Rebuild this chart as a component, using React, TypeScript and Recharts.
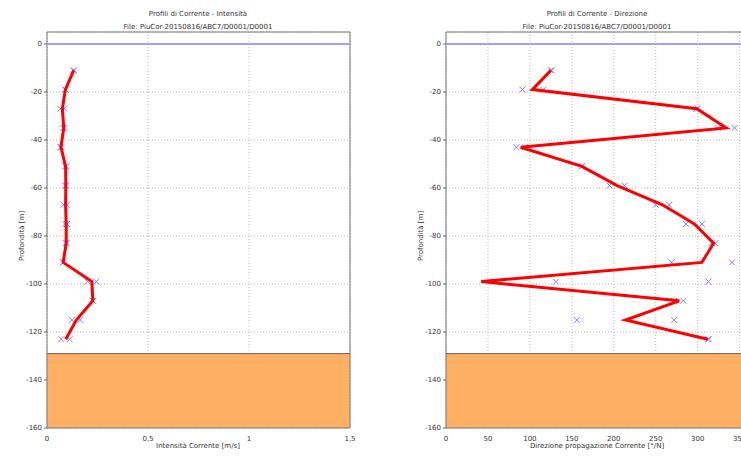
import {
  ScatterChart,
  Scatter,
  XAxis,
  YAxis,
  CartesianGrid,
  ReferenceArea,
  ReferenceLine,
} from 'recharts';

// depth levels (m)
const depths = [-11, -19, -27, -35, -43, -51, -59, -67, -75, -83, -91, -99, -107, -115, -123];

// intensity (m/s): two measurements + mean profile
const intensityA = [0.13, 0.09, 0.066, 0.08, 0.066, 0.09, 0.09, 0.082, 0.09, 0.093, 0.08, 0.201, 0.226, 0.123, 0.071];
const intensityB = [0.134, 0.092, 0.086, 0.087, 0.071, 0.095, 0.095, 0.099, 0.099, 0.097, 0.08, 0.244, 0.228, 0.165, 0.112];
const intensityMean = [0.132, 0.091, 0.076, 0.083, 0.069, 0.092, 0.093, 0.092, 0.095, 0.095, 0.08, 0.222, 0.227, 0.145, 0.093];

// direction (°/N): two measurements + mean profile
const directionA = [126, 91, 298, 344, 84, 162, 195, 250, 286, 321, 269, 131, 283, 156, 313];
const directionB = [125, 116, 300, 324, 94, 162, 213, 266, 305, 317, 341, 313, 272, 272, 312];
const directionMean = [125, 103, 299, 334, 89, 162, 204, 258, 296, 319, 305, 42, 278, 214, 312];

const depthTicks = [0, -20, -40, -60, -80, -100, -120, -140, -160];
const intensityTicks = [0, 0.5, 1, 1.5];
const directionTicks = [0, 50, 100, 150, 200, 250, 300, 350];

const seabed = -129;
const surface = 0;

const FONT = '"DejaVu Sans", sans-serif';
const tickStyle = { fontSize: 7, fill: '#333', fontFamily: FONT };

const toPoints = (xs: number[]) => depths.map((d, i) => ({ x: xs[i], y: d }));

const XMark = (props: any) => {
  const { cx, cy } = props;
  const s = 3;
  return (
    <g stroke="#7f7fff" strokeWidth={1}>
      <line x1={cx - s} y1={cy - s} x2={cx + s} y2={cy + s} />
      <line x1={cx - s} y1={cy + s} x2={cx + s} y2={cy - s} />
    </g>
  );
};

const NoMark = () => <g />;

interface ProfileProps {
  width: number;
  left: number;
  right: number;
  domain: [number, number];
  ticks: number[];
  a: number[];
  b: number[];
  mean: number[];
  fmt: (v: number) => string;
}

function Profile({ width, left, right, domain, ticks, a, b, mean, fmt }: ProfileProps) {
  return (
    <ScatterChart
      width={width}
      height={456}
      margin={{ top: 32, right: right, bottom: 16, left: 0 }}
    >
      <CartesianGrid stroke="#b8b8b8" strokeDasharray="1 2" />
      <XAxis
        type="number"
        dataKey="x"
        domain={domain}
        ticks={ticks}
        tickFormatter={fmt}
        allowDataOverflow
        height={12}
        axisLine={false}
        tickLine={false}
        tick={tickStyle}
        tickMargin={2}
      />
      <YAxis
        type="number"
        dataKey="y"
        domain={[-160, 5]}
        ticks={depthTicks}
        allowDataOverflow
        width={left}
        axisLine={false}
        tickSize={3}
        tickLine={{ stroke: '#666' }}
        tick={tickStyle}
      />
      <ReferenceArea
        y1={-160}
        y2={seabed}
        x1={domain[0]}
        x2={domain[1]}
        fill="#ffb062"
        fillOpacity={1}
        stroke="none"
      />
      <ReferenceLine y={seabed} stroke="#666" strokeWidth={1} />
      <ReferenceLine y={surface} stroke="#9f9fff" strokeWidth={2} />
      <ReferenceArea
        y1={-160}
        y2={5}
        x1={domain[0]}
        x2={domain[1]}
        fill="none"
        stroke="#777"
        strokeWidth={1}
      />
      <Scatter data={toPoints(a)} shape={XMark} isAnimationActive={false} />
      <Scatter data={toPoints(b)} shape={XMark} isAnimationActive={false} />
      <Scatter
        data={toPoints(mean)}
        shape={NoMark}
        line={{ stroke: '#ff0000', strokeWidth: 3 }}
        isAnimationActive={false}
      />
    </ScatterChart>
  );
}

const textBase: React.CSSProperties = {
  position: 'absolute',
  fontFamily: FONT,
  fontSize: 7,
  color: '#333',
  whiteSpace: 'nowrap',
  transform: 'translateX(-50%)',
};

export default function App() {
  return (
    <div
      style={{
        position: 'fixed',
        left: 0,
        top: 0,
        width: 741,
        height: 456,
        overflow: 'hidden',
        background: '#fff',
      }}
    >
      <div style={{ position: 'absolute', left: 0, top: 0 }}>
        <Profile
          width={370}
          left={47}
          right={20}
          domain={[0, 1.5]}
          ticks={intensityTicks}
          a={intensityA}
          b={intensityB}
          mean={intensityMean}
          fmt={(v) => String(v).replace('.', ',')}
        />
      </div>
      <div style={{ position: 'absolute', left: 370, top: 0 }}>
        <Profile
          width={400}
          left={76}
          right={22}
          domain={[0, 360]}
          ticks={directionTicks}
          a={directionA}
          b={directionB}
          mean={directionMean}
          fmt={(v) => String(v)}
        />
      </div>

      <div style={{ ...textBase, left: 198, top: 10 }}>Profili di Corrente - Intensità</div>
      <div style={{ ...textBase, left: 198, top: 23 }}>File: PiuCor-20150816/ABC7/D0001/D0001</div>
      <div style={{ ...textBase, left: 597, top: 10 }}>Profili di Corrente - Direzione</div>
      <div style={{ ...textBase, left: 597, top: 23 }}>File: PiuCor-20150816/ABC7/D0001/D0001</div>

      <div style={{ ...textBase, left: 198, top: 442 }}>Intensità Corrente [m/s]</div>
      <div style={{ ...textBase, left: 597, top: 442 }}>Direzione propagazione Corrente [°/N]</div>

      <div
        style={{
          ...textBase,
          left: 22,
          top: 236,
          transform: 'translate(-50%, -50%) rotate(-90deg)',
        }}
      >
        Profondità [m]
      </div>
      <div
        style={{
          ...textBase,
          left: 421,
          top: 236,
          transform: 'translate(-50%, -50%) rotate(-90deg)',
        }}
      >
        Profondità [m]
      </div>
    </div>
  );
}
